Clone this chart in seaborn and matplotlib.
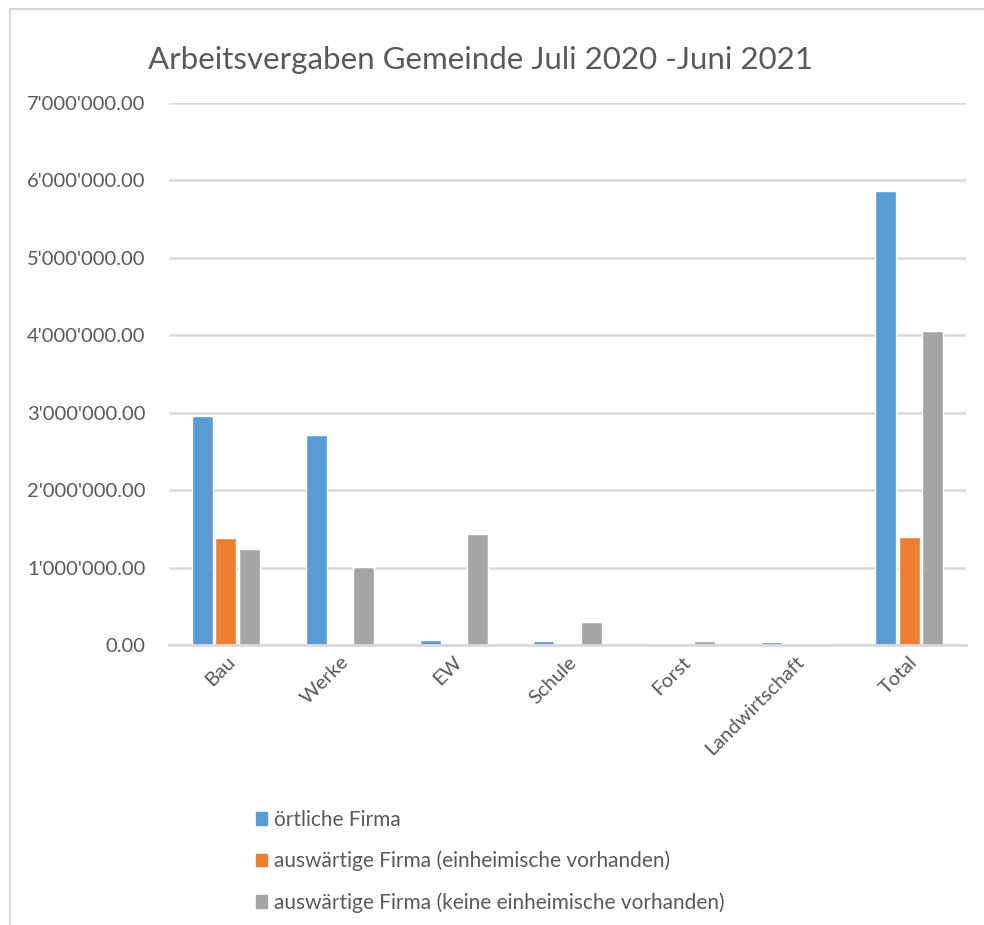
import pandas as pd
import matplotlib.pyplot as plt
import matplotlib.ticker as mticker
from matplotlib.patches import Rectangle
import seaborn as sns

categories = ["Bau", "Werke", "EW", "Schule", "Forst", "Landwirtschaft", "Total"]
oertlich = [2960000, 2710000, 65000, 50000, 0, 40000, 5860000]
auswaertig_vorh = [1380000, 0, 0, 0, 0, 0, 1400000]
auswaertig_keine = [1240000, 1010000, 1440000, 300000, 50000, 0, 4060000]
series_names = [
    "örtliche Firma",
    "auswärtige Firma (einheimische vorhanden)",
    "auswärtige Firma (keine einheimische vorhanden)",
]
colors = ["#5B9BD5", "#ED7D31", "#A5A5A5"]

df = pd.DataFrame({
    "Bereich": categories * 3,
    "Betrag": oertlich + auswaertig_vorh + auswaertig_keine,
    "Serie": [series_names[0]] * 7 + [series_names[1]] * 7 + [series_names[2]] * 7,
})

sns.set_theme(style="white")
plt.rcParams["font.family"] = ["Lato", "DejaVu Sans"]
text_col = "#595959"

fig = plt.figure(figsize=(9.84, 9.25), dpi=100)
ax = fig.add_axes([169 / 984, 1 - 645 / 925, (966 - 169) / 984, (645 - 103) / 925])

sns.barplot(data=df, x="Bereich", y="Betrag", hue="Serie", palette=colors,
            saturation=1, width=0.62, gap=0.11, ax=ax, legend=False)

ax.set_ylim(0, 7000000)
ax.set_xlim(-0.5, 6.5)
ax.yaxis.set_major_locator(mticker.MultipleLocator(1000000))
ax.yaxis.set_major_formatter(mticker.FuncFormatter(lambda v, p: f"{v:,.2f}".replace(",", "'")))
ax.grid(axis="y", color="#D9D9D9", linewidth=1.8)
ax.set_axisbelow(True)
for s in ["top", "right", "left"]:
    ax.spines[s].set_visible(False)
ax.spines["bottom"].set_color("#D9D9D9")
ax.spines["bottom"].set_linewidth(2)
ax.set_xlabel("")
ax.set_ylabel("")
ax.tick_params(axis="y", length=0, pad=17, labelsize=14.5, labelcolor=text_col)
ax.tick_params(axis="x", length=0, pad=6, labelsize=14.5, labelcolor=text_col)
plt.setp(ax.get_xticklabels(), rotation=45, ha="right", rotation_mode="anchor")

fig.text(480 / 984, 1 - 60 / 925, "Arbeitsvergaben Gemeinde Juli 2020 -Juni 2021",
         ha="center", va="center", fontsize=22.5, color=text_col)

handles = [Rectangle((0, 0), 1, 1, color=c) for c in colors]
fig.legend(handles, series_names, loc="upper left", bbox_to_anchor=(237 / 984, 1 - 791 / 925),
           frameon=False, handlelength=0.55, handleheight=0.55, handletextpad=0.35,
           labelspacing=1.0, fontsize=15, labelcolor=text_col)

fig.patches.append(Rectangle((10 / 984, -0.1), 1.2, 1 - 9 / 925 + 0.1, transform=fig.transFigure,
                             fill=False, edgecolor="#D9D9D9", linewidth=1.5))

fig.savefig("out.png", dpi=100)
